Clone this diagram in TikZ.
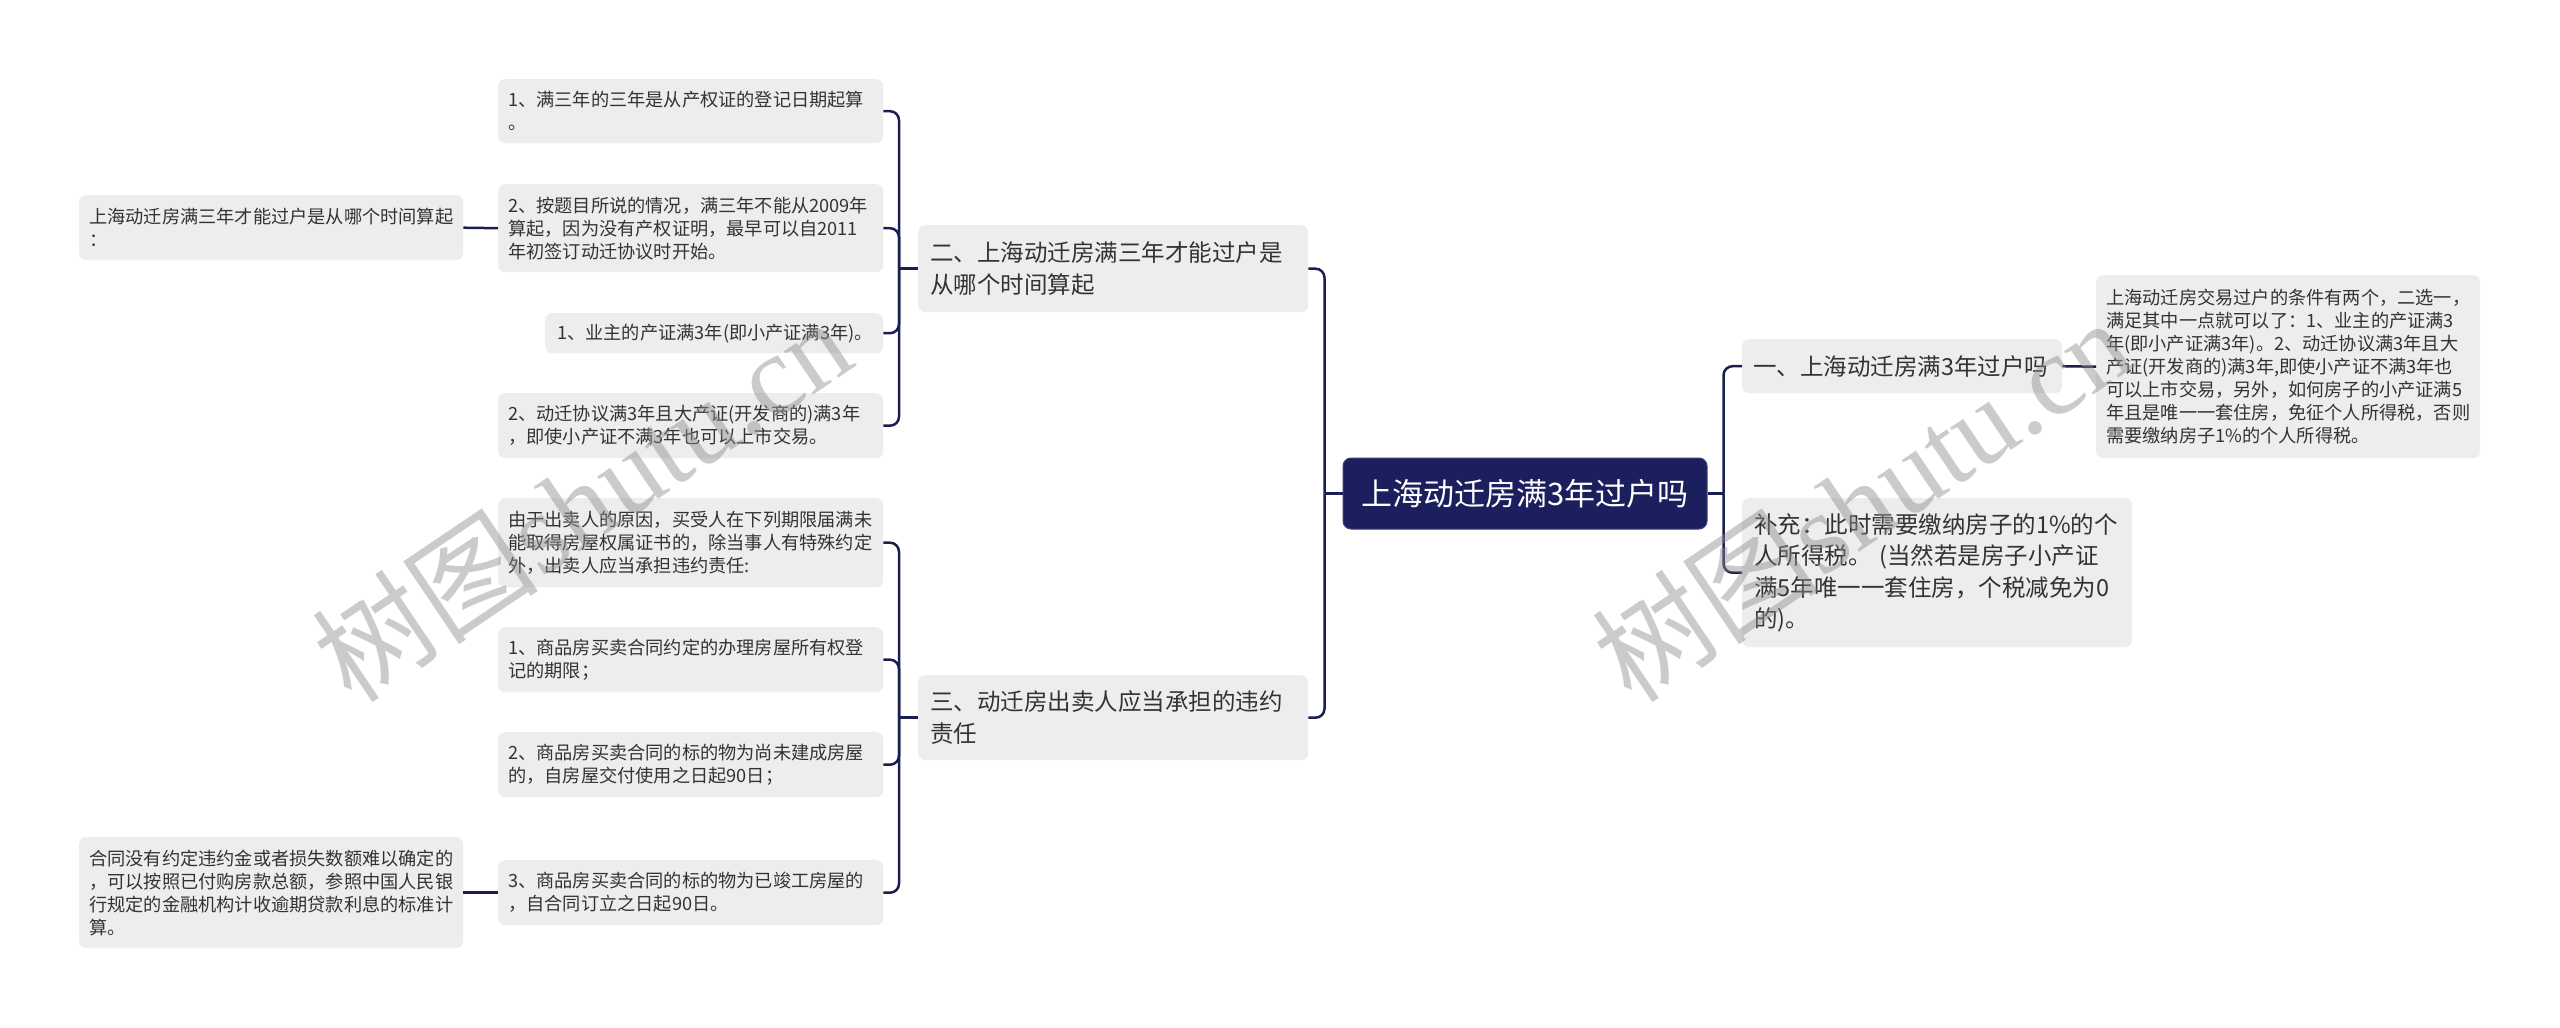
\documentclass[tikz,border=0pt]{standalone}
\usepackage{fontspec}
\setmainfont{Noto Sans CJK SC}
\newfontfamily\wmlatin{Liberation Serif}
\usetikzlibrary{calc}
\definecolor{boxgray}{HTML}{EDEDED}
\definecolor{txtc}{HTML}{333333}
\definecolor{navy}{HTML}{1B1F5E}
\definecolor{linec}{HTML}{1A1E50}
\newcommand\fsA{\fontsize{18.2}{23}\selectfont}
\newcommand\fsB{\fontsize{23.5}{31.5}\selectfont}
\newcommand\fsC{\fontsize{31}{38}\selectfont}
\begin{document}
\begin{tikzpicture}[x=1pt,y=-1pt,
  mmbox/.style={fill=boxgray, rounded corners=7pt, text=txtc, align=left,
    inner xsep=10pt, inner ysep=0pt, anchor=north west, font=\fsA},
  midbox/.style={mmbox, inner xsep=12pt, font=\fsB},
  rootbox/.style={fill=navy, draw=navy!85!white, line width=1pt, rounded corners=8pt,
    text=white, font=\fsC, inner sep=0pt, align=center},
  conn/.style={draw=linec, line width=2.5pt},
  cconn/.style={conn, rounded corners=9pt},
  wm/.style={text=black!45, text opacity=0.45, inner sep=0pt, anchor=base west, rotate=34}]
\useasboundingbox (0,0) rectangle (2560,1028);
\fill[white] (0,0) rectangle (2560,1028);

% root
\node[rootbox, minimum width=364pt, minimum height=71pt] (root) at (1525,493.5) {上海动迁房满3年过户吗};

% right side
\node[midbox, inner xsep=11pt, text width=298pt, minimum height=54pt] (R1) at (1742,339) {一、上海动迁房满3年过户吗};
\node[mmbox, text width=364pt, minimum height=183pt] (R1a) at (2096,275) {上海动迁房交易过户的条件有两个，二选一，\\满足其中一点就可以了：1、业主的产证满3\\年(即小产证满3年)。2、动迁协议满3年且大\\产证(开发商的)满3年,即使小产证不满3年也\\可以上市交易，另外，如何房子的小产证满5\\年且是唯一一套住房，免征个人所得税，否则\\需要缴纳房子1\%的个人所得税。};
\node[midbox, text width=366pt, minimum height=149pt] (R2) at (1742,498) {补充：此时需要缴纳房子的1\%的个\\人所得税。 (当然若是房子小产证\\满5年唯一一套住房，个税减免为0\\的)。};

% left main branches
\node[midbox, text width=366pt, minimum height=87pt] (L1) at (918,225) {二、上海动迁房满三年才能过户是\\从哪个时间算起};
\node[midbox, text width=366pt, minimum height=85pt] (L2) at (918,675) {三、动迁房出卖人应当承担的违约\\责任};

% children of L1
\node[mmbox, text width=365pt, minimum height=64pt] (c1) at (498,79) {1、满三年的三年是从产权证的登记日期起算\\。};
\node[mmbox, text width=365pt, minimum height=88pt] (c2) at (498,184) {2、按题目所说的情况，满三年不能从2009年\\算起，因为没有产权证明，最早可以自2011\\年初签订动迁协议时开始。};
\node[mmbox, inner xsep=12pt, text width=314pt, minimum height=40pt] (c3) at (545,313) {1、业主的产证满3年(即小产证满3年)。};
\node[mmbox, text width=365pt, minimum height=65pt] (c4) at (498,393) {2、动迁协议满3年且大产证(开发商的)满3年\\，即使小产证不满3年也可以上市交易。};
\node[mmbox, text width=364pt, minimum height=65pt] (e0) at (79,195) {上海动迁房满三年才能过户是从哪个时间算起\\：};

% children of L2
\node[mmbox, text width=365pt, minimum height=89pt] (d1) at (498,498) {由于出卖人的原因，买受人在下列期限届满未\\能取得房屋权属证书的，除当事人有特殊约定\\外，出卖人应当承担违约责任:};
\node[mmbox, text width=365pt, minimum height=65pt] (d2) at (498,627) {1、商品房买卖合同约定的办理房屋所有权登\\记的期限；};
\node[mmbox, text width=365pt, minimum height=65pt] (d3) at (498,732) {2、商品房买卖合同的标的物为尚未建成房屋\\的，自房屋交付使用之日起90日；};
\node[mmbox, text width=365pt, minimum height=65pt] (d4) at (498,860) {3、商品房买卖合同的标的物为已竣工房屋的\\，自合同订立之日起90日。};
\node[mmbox, text width=364pt, minimum height=111pt] (e1) at (79,837) {合同没有约定违约金或者损失数额难以确定的\\，可以按照已付购房款总额，参照中国人民银\\行规定的金融机构计收逾期贷款利息的标准计\\算。};

% connectors
\coordinate (jL) at ([xshift=-18pt]root.west);
\coordinate (jR) at ([xshift=16pt]root.east);
\coordinate (j1) at ([xshift=-19pt]L1.west);
\coordinate (j2) at ([xshift=-19pt]L2.west);

\draw[conn] (root.west) -- (jL);
\draw[cconn] (jL) |- (L1.east);
\draw[cconn] (jL) |- (L2.east);

\draw[conn] (root.east) -- (jR);
\draw[cconn] (jR) |- (R1.west);
\draw[cconn] (jR) |- (R2.west);
\draw[conn] (R1.east) -- (R1a.west);

\draw[conn] (L1.west) -- (j1);
\draw[cconn] (j1) |- (c1.east);
\draw[cconn] (j1) |- (c2.east);
\draw[cconn] (j1) |- (c3.east);
\draw[cconn] (j1) |- (c4.east);
\draw[conn] (c2.west) -- (e0.east);

\draw[conn] (L2.west) -- (j2);
\draw[cconn] (j2) |- (d1.east);
\draw[cconn] (j2) |- (d2.east);
\draw[cconn] (j2) |- (d3.east);
\draw[cconn] (j2) |- (d4.east);
\draw[conn] (d4.west) -- (e1.east);

% watermarks
\node[wm, font=\fontsize{114}{114}\selectfont] (w1) at (352,706) {树图{\wmlatin shutu.cn}};
\node[wm, font=\fontsize{114}{114}\selectfont] (w2) at (1632,706) {树图{\wmlatin shutu.cn}};
\end{tikzpicture}
\end{document}
